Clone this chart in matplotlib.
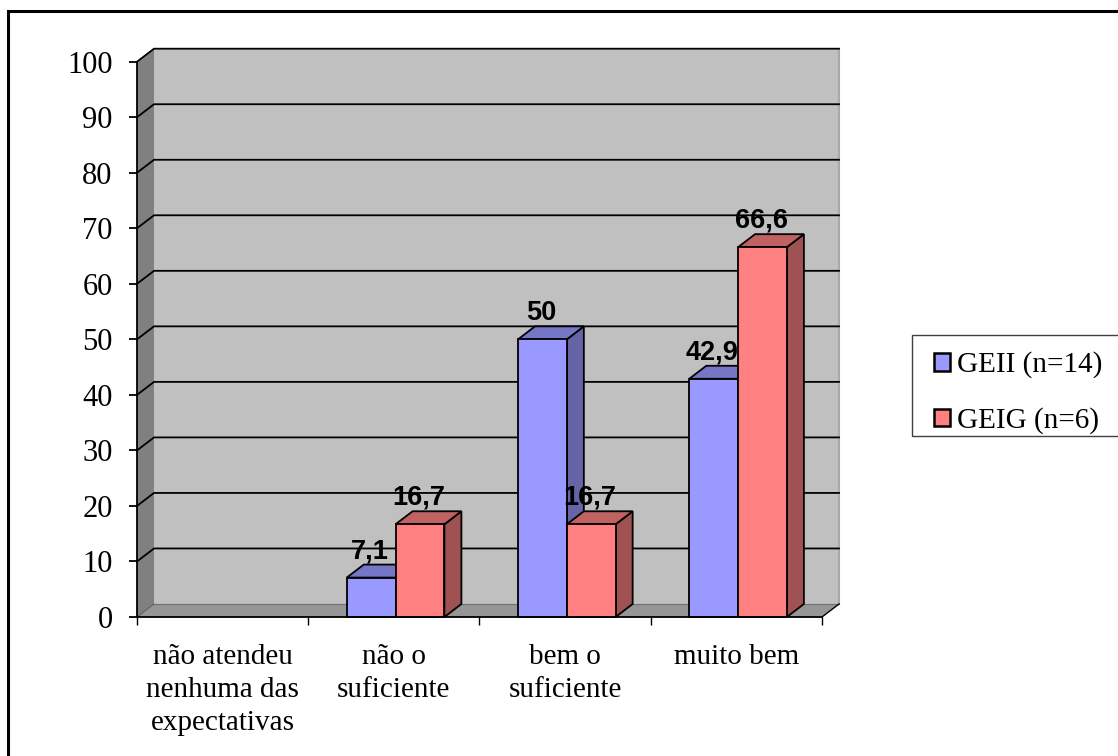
import matplotlib.pyplot as plt
from matplotlib.patches import Polygon, Rectangle, Patch

categories = ["não atendeu\nnenhuma das\nexpectativas", "não o\nsuficiente",
              "bem o\nsuficiente", "muito bem"]
geii = [0, 7.1, 50, 42.9]
geig = [0, 16.7, 16.7, 66.6]
series_names = ["GEII (n=14)", "GEIG (n=6)"]
yticks = list(range(0, 101, 10))

# colours for front, top and side faces of each series
blue = ("#9999FF", "#7676C6", "#6464A6")
red = ("#FF8080", "#C06262", "#A05252")

SERIF = "Liberation Serif"
SANS = "Liberation Sans"

# depth of the fake 3d box (in data units)
DX = 17 / 171.25
DY = 13 / 5.553
BAR_W = 0.285
LW = 1.3

fig = plt.figure(figsize=(11.18, 7.56), dpi=100)
ax = fig.add_axes([137 / 1118, 1 - 617 / 756, 685 / 1118, 555.3 / 756])
ax.set_xlim(0, 4)
ax.set_ylim(0, 100)
ax.patch.set_visible(False)

n = len(categories)

# back wall, left wall and floor
ax.add_patch(Polygon([(DX, DY), (n + DX, DY), (n + DX, 100 + DY), (DX, 100 + DY)],
                     closed=True, facecolor="#C0C0C0", edgecolor="none",
                     zorder=0, clip_on=False))
ax.add_patch(Polygon([(0, 0), (DX, DY), (DX, 100 + DY), (0, 100)],
                     closed=True, facecolor="#808080", edgecolor="none",
                     zorder=0, clip_on=False))
ax.add_patch(Polygon([(0, 0), (n, 0), (n + DX, DY), (DX, DY)],
                     closed=True, facecolor="#969696", edgecolor="none",
                     zorder=0, clip_on=False))
ax.plot([n + DX, n + DX], [DY, 100 + DY], color="#A8A8A8", lw=1.5,
        zorder=1, clip_on=False)
ax.plot([DX, n + DX], [DY, DY], color="#707070", lw=0.8, zorder=1, clip_on=False)
ax.plot([0, DX], [0, DY], color="#606060", lw=0.8, zorder=1, clip_on=False)
ax.plot([n, n + DX], [0, DY], color="black", lw=1.0, zorder=1, clip_on=False)

# gridlines on the back wall with the slanted bit on the left wall
for v in yticks[1:]:
    ax.plot([0, DX, n + DX], [v, v + DY, v + DY], color="black", lw=LW,
            zorder=1, clip_on=False)


def draw_bar(left, h, cols):
    if h == 0:
        return
    front, top, side = cols
    ax.add_patch(Polygon([(left + BAR_W, 0), (left + BAR_W + DX, DY),
                          (left + BAR_W + DX, h + DY), (left + BAR_W, h)],
                         closed=True, facecolor=side, edgecolor="black",
                         lw=LW, zorder=3, clip_on=False))
    ax.add_patch(Polygon([(left, h), (left + BAR_W, h),
                          (left + BAR_W + DX, h + DY), (left + DX, h + DY)],
                         closed=True, facecolor=top, edgecolor="black",
                         lw=LW, zorder=3, clip_on=False))
    ax.bar(left, h, width=BAR_W, align="edge", color=front,
           edgecolor="black", linewidth=LW, zorder=3, clip_on=False)


for i in range(n):
    c = i + 0.51
    draw_bar(c - BAR_W, geii[i], blue)
    draw_bar(c, geig[i], red)

# value labels
for i in range(n):
    c = i + 0.51
    for left, v in ((c - BAR_W, geii[i]), (c, geig[i])):
        if v == 0:
            continue
        ax.annotate(f"{v:g}".replace(".", ","), (left + BAR_W / 2, v),
                    xytext=(-1, 19), textcoords="offset points",
                    ha="center", va="center", fontsize=19.5,
                    fontweight="bold", family=SANS, zorder=6,
                    annotation_clip=False)

# axes
for s in ("top", "right"):
    ax.spines[s].set_visible(False)
for s in ("left", "bottom"):
    ax.spines[s].set_linewidth(LW)
    ax.spines[s].set_zorder(4)

ax.set_yticks(yticks)
ax.set_yticklabels([str(t) for t in yticks], fontsize=22, family=SERIF)
ax.tick_params(axis="y", direction="out", length=6, width=LW, pad=11.5)

ax.set_xticks(range(n + 1))
ax.set_xticklabels([])
ax.tick_params(axis="x", which="major", direction="out", length=6, width=1.0)
ax.set_xticks([i + 0.5 for i in range(n)], minor=True)
ax.set_xticklabels(categories, minor=True, fontsize=21, family=SERIF,
                   linespacing=1.34)
ax.tick_params(axis="x", which="minor", length=0, pad=19.5)

# legend box, drawn by hand so it runs off the right edge
fig.add_artist(Rectangle((912 / 1118, 1 - 436 / 756), 0.3, 101 / 756,
                         transform=fig.transFigure, fill=True,
                         facecolor="white", edgecolor="#404040", linewidth=1.0))
handles = [Patch(facecolor=blue[0], edgecolor="black", linewidth=1.8),
           Patch(facecolor=red[0], edgecolor="black", linewidth=1.8)]
leg = fig.legend(handles, series_names, loc="upper left",
                 bbox_to_anchor=(916.6 / 1118, 1 - 334 / 756),
                 prop={"family": SERIF, "size": 21}, frameon=False,
                 handlelength=0.55, handleheight=0.55, handletextpad=0.25,
                 borderpad=0.6, labelspacing=0.99, borderaxespad=0)

# outer border
fig.add_artist(Rectangle((8 / 1118, -0.1), 1.2, 1.1 - 11 / 756,
                         transform=fig.transFigure, fill=False,
                         edgecolor="black", linewidth=2.2))

fig.savefig("out.png", dpi=100)
